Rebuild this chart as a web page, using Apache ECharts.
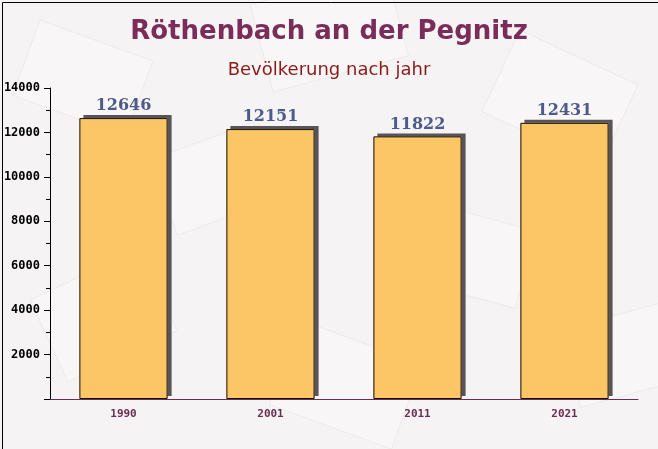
<!DOCTYPE html>
<html><head><meta charset="utf-8">
<script src="https://cdn.jsdelivr.net/npm/echarts@6/dist/echarts.min.js"></script>
<style>html,body{margin:0;padding:0;background:#f5f3f3}#c{width:658px;height:449px}</style>
</head><body><div id="c"></div>
<script>
const categories = ['1990', '2001', '2011', '2021'];
const population = [12646, 12151, 11822, 12431];
const yTicks = [0, 2000, 4000, 6000, 8000, 10000, 12000, 14000];

const chart = echarts.init(document.getElementById('c'), null, {renderer: 'canvas'});
const bg = [];
const shapes = [[40,20,120,80,-20],[250,5,140,90,15],[520,30,130,90,-25],[150,160,110,80,20],[420,200,120,80,-15],[30,300,120,90,25],[300,320,130,90,-20],[560,330,110,80,15]];
shapes.forEach(s => bg.push({type:'rect', x:s[0], y:s[1], rotation:s[4]*Math.PI/180, shape:{width:s[2], height:s[3]}, style:{fill:'rgba(255,255,255,0.3)', stroke:'rgba(225,220,220,0.4)'}, z:-10, silent:true}));
bg.push({type:'rect', left:0, top:0, shape:{width:657, height:448, x:0.5, y:0.5}, style:{fill:'none', stroke:'#000', lineWidth:1}, z:100, silent:true});

chart.setOption({
  backgroundColor: '#f5f3f3',
  animation: false,
  graphic: bg,
  title: [
    {text: 'Röthenbach an der Pegnitz', left: 'center', top: 14, textStyle: {fontFamily: 'DejaVu Sans', fontWeight: 'bold', fontSize: 26, color: '#7b2d5a'}},
    {text: 'Bevölkerung nach jahr', left: 'center', top: 56, textStyle: {fontFamily: 'DejaVu Sans', fontWeight: 'normal', fontSize: 18, color: '#8b1a1a'}}
  ],
  grid: {left: 50, right: 20, top: 88, bottom: 50, containLabel: false, outerBoundsMode: 'none'},
  xAxis: {
    type: 'category', data: categories, boundaryGap: true,
    axisLine: {lineStyle: {color: '#6b2d52'}},
    axisTick: {inside: true, length: 6, lineStyle: {color: '#6b2d52'}},
    axisLabel: {fontFamily: 'DejaVu Sans Mono', fontWeight: 'bold', fontSize: 11, color: '#6b2d52', margin: 10}
  },
  yAxis: {
    type: 'value', min: yTicks[0], max: yTicks[yTicks.length-1], interval: 2000,
    axisLine: {show: true, lineStyle: {color: '#000'}},
    axisTick: {show: true, length: 6, lineStyle: {color: '#000'}},
    minorTick: {show: true, splitNumber: 2, length: 4, lineStyle: {color: '#000'}},
    splitLine: {show: false},
    axisLabel: {showMinLabel: false, formatter: v => String(v), fontFamily: 'DejaVu Sans Mono', fontWeight: 'bold', fontSize: 12, color: '#000', margin: 10}
  },
  series: [{
    type: 'bar', data: population, barWidth: '60%',
    itemStyle: {color: '#fcc566', borderWidth: 0, shadowColor: '#58545a', shadowBlur: 0, shadowOffsetX: 4, shadowOffsetY: -3},
    label: {show: true, position: 'top', distance: 4, fontFamily: 'DejaVu Serif', fontWeight: 'bold', fontSize: 16, color: '#4d5a8a'}
  }, {
    type: 'bar', data: population, barWidth: '60%', barGap: '-100%', silent: true,
    itemStyle: {color: 'rgba(0,0,0,0)', borderColor: '#111', borderWidth: 1}
  }]
});
</script></body></html>
